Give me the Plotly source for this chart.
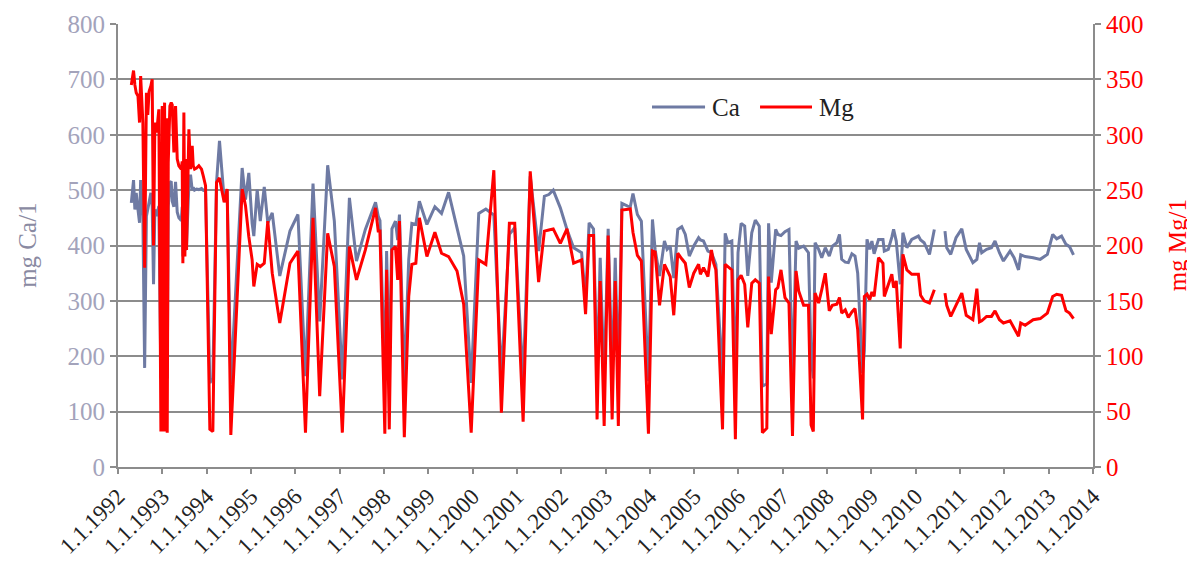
import datetime as dt
import plotly.graph_objects as go

# decimal-year sample times
years = [
    1992.30, 1992.35, 1992.38, 1992.41, 1992.45, 1992.485, 1992.51, 1992.56, 1992.60, 1992.64,
    1992.67, 1992.70, 1992.74, 1992.77, 1992.80, 1992.83, 1992.87, 1992.92, 1992.966, 1992.996,
    1993.019, 1993.049, 1993.071, 1993.094, 1993.109, 1993.132, 1993.169, 1993.199, 1993.222, 1993.259,
    1993.297, 1993.335, 1993.372, 1993.425, 1993.447, 1993.462, 1993.485, 1993.508, 1993.523, 1993.545,
    1993.598, 1993.635, 1993.673, 1993.696, 1993.726, 1993.771, 1993.823, 1993.883, 1993.921, 1993.974,
    1994.071, 1994.139, 1994.222, 1994.289, 1994.350, 1994.395, 1994.462, 1994.545, 1994.801, 1994.876,
    1994.951, 1995.026, 1995.064, 1995.14, 1995.21, 1995.30, 1995.38, 1995.48, 1995.65, 1995.88,
    1996.06, 1996.23, 1996.40, 1996.55, 1996.73, 1996.88, 1997.06, 1997.22, 1997.38, 1997.58,
    1997.81, 1997.87, 1997.91, 1998.02, 1998.06, 1998.12, 1998.18, 1998.26, 1998.31, 1998.35,
    1998.46, 1998.56, 1998.63, 1998.72, 1998.80, 1998.97, 1999.15, 1999.30, 1999.46, 1999.65,
    1999.80, 1999.97, 2000.14, 2000.30, 2000.48, 2000.65, 2000.83, 2000.95, 2001.14, 2001.30,
    2001.49, 2001.62, 2001.72, 2001.82, 2001.98, 2002.13, 2002.28, 2002.46, 2002.55, 2002.63,
    2002.73, 2002.81, 2002.88, 2002.97, 2003.06, 2003.15, 2003.22, 2003.29, 2003.37, 2003.50,
    2003.56, 2003.62, 2003.72, 2003.81, 2003.97, 2004.06, 2004.12, 2004.22, 2004.33, 2004.39,
    2004.46, 2004.54, 2004.63, 2004.72, 2004.80, 2004.89, 2004.99, 2005.10, 2005.14, 2005.21,
    2005.27, 2005.31, 2005.39, 2005.44, 2005.49, 2005.64, 2005.70, 2005.76, 2005.85, 2005.93,
    2005.99, 2006.06, 2006.14, 2006.21, 2006.30, 2006.38, 2006.47, 2006.54, 2006.64, 2006.68,
    2006.74, 2006.84, 2006.89, 2006.96, 2007.05, 2007.14, 2007.22, 2007.30, 2007.36, 2007.47,
    2007.58, 2007.64, 2007.69, 2007.73, 2007.81, 2007.88, 2007.96, 2008.05, 2008.12, 2008.22,
    2008.28, 2008.33, 2008.41, 2008.48, 2008.56, 2008.63, 2008.69, 2008.80, 2008.84, 2008.90,
    2008.96, 2009.01, 2009.06, 2009.16, 2009.26, 2009.29, 2009.38, 2009.46, 2009.50, 2009.56,
    2009.65, 2009.71, 2009.80, 2009.91, 2010.06, 2010.11, 2010.19, 2010.31, 2010.42, 2010.54,
    2010.66, 2010.70, 2010.79, 2010.91, 2011.04, 2011.14, 2011.29, 2011.38, 2011.44, 2011.49,
    2011.60, 2011.71, 2011.79, 2011.89, 2011.98, 2012.13, 2012.22, 2012.32, 2012.37, 2012.47,
    2012.65, 2012.81, 2012.97, 2013.09, 2013.18, 2013.29, 2013.39, 2013.47, 2013.56,
]

ca_values = [
    477, 518, 465, 495, 465, 441, 518, 453, 179, 453,
    465, 480, 495, 470, 330, 465, 453, 471, 160, 480,
    160, 490, 160, 500, 160, 470, 513, 516, 480, 470,
    515, 460, 450, 445, 470, 380, 510, 390, 480, 400,
    510, 528, 500, 505, 500, 502, 501, 503, 500, 498,
    152, 160, 513, 589, 520, 483, 501, 150, 540, 483,
    531, 440, 417, 501, 444, 506, 441, 459, 345, 426,
    456, 164, 512, 263, 545, 444, 158, 486, 372, 429,
    478, 453, 445, 160, 390, 165, 430, 444, 410, 456,
    155, 375, 440, 438, 480, 438, 470, 458, 496, 429,
    381, 152, 458, 466, 455, 165, 420, 432, 157, 525,
    390, 489, 492, 500, 468, 429, 396, 387, 300, 441,
    430, 160, 378, 155, 430, 160, 378, 155, 476, 471,
    470, 494, 456, 444, 155, 447, 393, 345, 408, 393,
    399, 341, 429, 434, 420, 381, 399, 414, 410, 408,
    395, 390, 387, 375, 366, 160, 422, 405, 408, 150,
    387, 440, 435, 345, 423, 446, 435, 146, 150, 440,
    333, 429, 420, 418, 425, 429, 155, 408, 395, 399,
    387, 200, 160, 405, 393, 378, 396, 381, 399, 405,
    420, 375, 370, 369, 385, 381, 350, 170, 210, 411,
    393, 408, 385, 411, 411, 390, 393, 415, 429, 408,
    330, 423, 396, 411, 417, 410, 405, 384, 429, None,
    426, 396, 384, 414, 430, 393, 369, 375, 405, 387,
    393, 396, 408, 387, 372, 390, 378, 356, 383, 380,
    378, 375, 384, 420, 412, 417, 402, 398, 383,
]

mg_values = [
    345, 358, 345, 338, 335, 311, 353, 311, 180, 338,
    318, 339, 344, 350, 200, 311, 302, 323, 32, 326,
    32, 329, 32, 315, 31, 275, 326, 329, 327, 284,
    326, 278, 272, 269, 276, 184, 320, 190, 278, 196,
    305, 269, 290, 272, 269, 270, 272, 269, 263, 254,
    34, 32, 257, 261, 248, 239, 251, 29, 251, 236,
    208, 187, 163, 183, 181, 184, 222, 175, 130, 184,
    195, 31, 225, 64, 211, 181, 31, 199, 169, 196,
    234, 213, 213, 30, 178, 34, 196, 199, 169, 222,
    27, 154, 183, 184, 225, 190, 212, 193, 190, 177,
    147, 31, 187, 183, 268, 49, 220, 220, 41, 267,
    167, 213, 214, 215, 202, 215, 184, 187, 138, 209,
    209, 43, 168, 37, 209, 43, 168, 37, 232, 233,
    233, 212, 191, 186, 30, 195, 194, 146, 183, 178,
    172, 137, 193, 188, 184, 162, 175, 183, 174, 180,
    175, 172, 196, 184, 178, 34, 183, 181, 178, 25,
    169, 173, 165, 126, 166, 169, 166, 31, 35, 172,
    120, 160, 162, 178, 153, 148, 28, 177, 159, 146,
    146, 38, 32, 157, 148, 160, 175, 141, 146, 147,
    153, 139, 142, 135, 140, 143, 124, 43, 154, 156,
    151, 158, 154, 189, 184, 154, 165, 174, 162, 168,
    107, 192, 178, 174, 174, 155, 150, 148, 160, None,
    157, 146, 136, 146, 157, 137, 133, 161, 131, 132,
    136, 136, 141, 133, 130, 132, 125, 118, 130, 128,
    133, 134, 139, 154, 156, 155, 141, 139, 134,
]

tick_years = list(range(1992, 2015))
tick_labels = [f"1.1.{y}" for y in tick_years]


def to_date(y):
    yr = int(y)
    start = dt.datetime(yr, 1, 1)
    end = dt.datetime(yr + 1, 1, 1)
    return start + (end - start) * (y - yr)


dates = [to_date(y) for y in years]

FONT = "Liberation Serif"
GRID = "#8c8c8c"
CA_COLOR = "#6E7AA3"
MG_COLOR = "#FF0000"

fig = go.Figure()
fig.add_trace(go.Scatter(x=dates, y=ca_values, name="Ca", mode="lines",
                         line=dict(color=CA_COLOR, width=3), connectgaps=False,
                         showlegend=False))
fig.add_trace(go.Scatter(x=dates, y=mg_values, name="Mg", mode="lines", yaxis="y2",
                         line=dict(color=MG_COLOR, width=3), connectgaps=False,
                         showlegend=False))

# legend drawn as line samples + labels (long samples as in the reference)
LEG_Y = 0.8126
legend_items = [("Ca", CA_COLOR, 0.5477, 0.6021), ("Mg", MG_COLOR, 0.6585, 0.7118)]
shapes = []
annotations = []
for name, color, x0, x1 in legend_items:
    shapes.append(dict(type="line", xref="paper", yref="paper", x0=x0, x1=x1,
                       y0=LEG_Y, y1=LEG_Y, line=dict(color=color, width=3)))
    annotations.append(dict(text=name, xref="paper", yref="paper", x=x1 + 0.005, y=LEG_Y,
                            xanchor="left", yanchor="middle", showarrow=False,
                            font=dict(family=FONT, size=25, color="#222")))

annotations += [
    dict(text="mg Ca/1", xref="paper", yref="paper", x=-0.093, y=0.5,
         xanchor="center", yanchor="middle",
         textangle=-90, showarrow=False, font=dict(family=FONT, size=25, color="#8a8aa2")),
    dict(text="mg Mg/1", xref="paper", yref="paper", x=1.087, y=0.5,
         xanchor="center", yanchor="middle",
         textangle=-90, showarrow=False, font=dict(family=FONT, size=25, color=MG_COLOR)),
]

fig.update_layout(
    width=1195, height=561,
    margin=dict(l=110, r=110, t=16, b=102),
    plot_bgcolor="white", paper_bgcolor="white",
    font=dict(family=FONT, size=25),
    showlegend=False,
    xaxis=dict(
        type="date",
        range=[dt.datetime(1992, 1, 1), dt.datetime(2014, 1, 1)],
        tickmode="array",
        tickvals=[dt.datetime(y, 1, 1) for y in tick_years],
        ticktext=tick_labels,
        tickangle=-45,
        tickfont=dict(family=FONT, size=23, color="#222"),
        showgrid=False, zeroline=False, automargin=False,
        showline=True, linecolor=GRID, linewidth=2,
        ticks="outside", ticklen=5, tickwidth=2, tickcolor=GRID,
    ),
    yaxis=dict(
        range=[0, 800], dtick=100, automargin=False,
        tickfont=dict(family=FONT, size=25, color="#a3a3bb"),
        showgrid=True, gridcolor=GRID, gridwidth=2, zeroline=False,
        showline=True, linecolor=GRID, linewidth=2,
        ticks="outside", ticklen=6, tickwidth=2, tickcolor=GRID,
    ),
    yaxis2=dict(
        range=[0, 400], dtick=50, overlaying="y", side="right", automargin=False,
        tickfont=dict(family=FONT, size=25, color=MG_COLOR),
        showgrid=False, zeroline=False,
        showline=True, linecolor=GRID, linewidth=2,
        ticks="outside", ticklen=6, tickwidth=2, tickcolor=GRID,
    ),
    shapes=shapes,
    annotations=annotations,
)

fig.write_html("out.html")
